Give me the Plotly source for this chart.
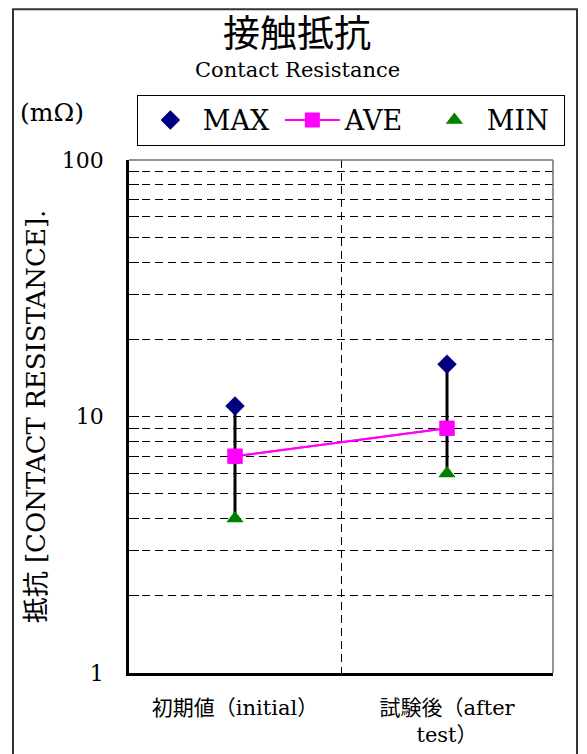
import plotly.graph_objects as go

categories = ["初期値（initial）", "試験後（after<br>test）"]
max_vals = [11.0, 16.0]
ave_vals = [7.0, 9.0]
min_vals = [4.0, 6.0]
y_tickvals = [1, 2, 3, 4, 5, 6, 7, 8, 9, 10, 20, 30, 40, 50, 60, 70, 80, 90, 100]
y_ticktext = ["1", "", "", "", "", "", "", "", "", "10", "", "", "", "", "", "", "", "", "100"]

FONT = "DejaVu Serif, Noto Sans CJK JP, serif"
xpos = list(range(len(categories)))

fig = go.Figure()

# range bars (MIN..MAX) as error bars on AVE
fig.add_trace(go.Scatter(
    x=xpos, y=ave_vals, mode="lines+markers", name="AVE",
    line=dict(color="#FF00FF", width=2),
    marker=dict(symbol="square", size=15, color="#FF00FF"),
    error_y=dict(type="data", symmetric=False,
                 array=[mx - a for mx, a in zip(max_vals, ave_vals)],
                 arrayminus=[a - mn for mn, a in zip(min_vals, ave_vals)],
                 color="black", thickness=3, width=0),
    showlegend=False,
))
fig.add_trace(go.Scatter(
    x=xpos, y=max_vals, mode="markers", name="MAX",
    marker=dict(symbol="diamond", size=15, color="#000080"),
))
fig.add_trace(go.Scatter(
    x=xpos, y=ave_vals, mode="lines+markers", name="AVE",
    line=dict(color="#FF00FF", width=2),
    marker=dict(symbol="square", size=15, color="#FF00FF"),
))
fig.add_trace(go.Scatter(
    x=xpos, y=min_vals, mode="markers", name="MIN",
    marker=dict(symbol="triangle-up", size=15, color="#008000"),
))

fig.update_layout(
    width=579, height=746,
    margin=dict(l=121, r=34, t=152, b=81, autoexpand=False),
    paper_bgcolor="white", plot_bgcolor="white",
    font=dict(family=FONT, color="black", size=20),
    legend=dict(orientation="h", x=1.028, y=1.127, xanchor="right", yanchor="top",
                bordercolor="black", borderwidth=1, bgcolor="white",
                font=dict(size=27, family=FONT), entrywidth=72, entrywidthmode="pixels",
                itemwidth=55, traceorder="normal"),
    xaxis=dict(range=[-0.5, 1.5], tickvals=xpos, ticktext=categories,
               showgrid=False, zeroline=False, showline=True, linecolor="black",
               linewidth=2.5, mirror=False, ticks="", tickfont=dict(size=21),
               ticklabelstandoff=14,
               minor=dict(tickvals=[0.5], showgrid=True, gridcolor="black",
                          griddash="8px,5px", gridwidth=1, ticks="")),
    yaxis=dict(type="log", range=[0, 2], tickvals=y_tickvals, ticktext=y_ticktext,
               showgrid=True, gridcolor="black", griddash="8px,5px", gridwidth=1,
               showline=True, linecolor="black", linewidth=2.5, mirror=False,
               ticks="inside", ticklen=10, tickcolor="black", tickwidth=1,
               tickfont=dict(size=22), zeroline=False, ticklabelstandoff=18,
               title=dict(text="抵抗 [CONTACT RESISTANCE].", font=dict(size=26), standoff=9)),
    annotations=[
        dict(text="接触抵抗", x=0.396, y=1.244, xref="paper", yref="paper",
             showarrow=False, font=dict(size=37, family=FONT), xanchor="center", yanchor="middle"),
        dict(text="Contact Resistance", x=0.398, y=1.175, xref="paper", yref="paper",
             showarrow=False, font=dict(size=21, family=FONT), xanchor="center", yanchor="middle"),
        dict(text="(mΩ)", x=-0.181, y=1.093, xref="paper", yref="paper",
             showarrow=False, font=dict(size=25, family=FONT), xanchor="center", yanchor="middle"),
    ],
    shapes=[
        dict(type="rect", xref="paper", yref="paper", x0=-0.2736, x1=1.0566, y0=-0.2, y1=1.294,
             line=dict(color="#333333", width=2), fillcolor="rgba(0,0,0,0)", layer="below"),
        dict(type="line", xref="paper", yref="paper", x0=0, x1=1, y0=1, y1=1,
             line=dict(color="#707070", width=1.5)),
        dict(type="line", xref="paper", yref="paper", x0=1, x1=1, y0=0, y1=1,
             line=dict(color="#707070", width=1.5)),
    ],
)

fig.write_html("out.html")
